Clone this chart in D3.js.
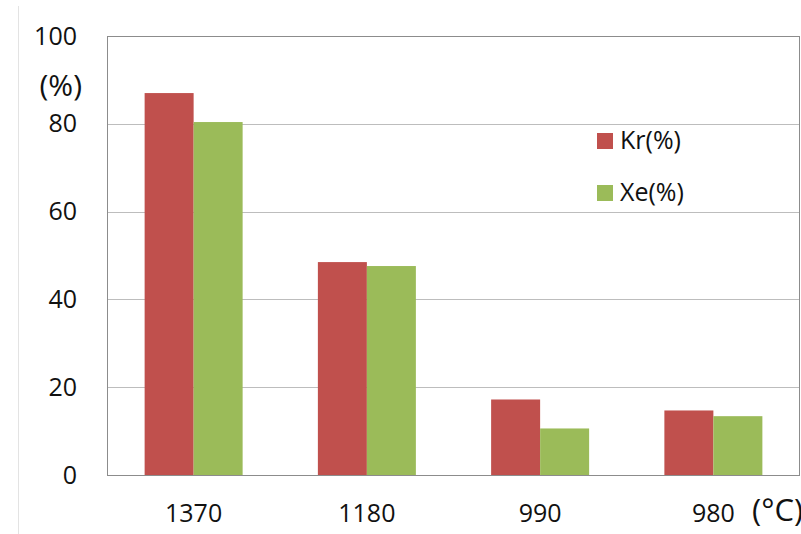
<!DOCTYPE html>
<html>
<head>
<meta charset="utf-8">
<script src="https://cdn.jsdelivr.net/npm/d3@7"></script>
<style>
  body { margin: 0; background: #fff; }
  text { font-family: "Open Sans", "Liberation Sans", Arial, sans-serif; fill: #111; }
</style>
</head>
<body>
<div id="chart"></div>
<script>
const temps = ['1370', '1180', '990', '980'];
const kr = [87.0, 48.5, 17.2, 14.7];
const xe = [80.4, 47.6, 10.6, 13.4];
const series = ['Kr(%)', 'Xe(%)'];
const colors = ['#c0504d', '#9bbb59'];
const yTicks = [0, 20, 40, 60, 80, 100];

const width = 801;
const height = 534;
const margin = { top: 36, right: 1, bottom: 59, left: 107 };
const iw = width - margin.left - margin.right;
const ih = height - margin.top - margin.bottom;

const svg = d3.select('#chart').append('svg')
  .attr('width', width)
  .attr('height', height);

// faint outer frame line on the left
svg.append('line')
  .attr('x1', 18.5).attr('x2', 18.5)
  .attr('y1', 6).attr('y2', height)
  .attr('stroke', '#e3e3e3');

const g = svg.append('g')
  .attr('transform', `translate(${margin.left},${margin.top})`);

const x = d3.scaleBand().domain(temps).range([0, iw]);
const xs = d3.scaleBand().domain(series).range([0, 98]);
const y = d3.scaleLinear().domain([0, 100]).range([ih, 0]);

// gridlines
g.selectAll('line.grid')
  .data(yTicks.filter((d) => d > 0 && d < 100))
  .enter()
  .append('line')
  .attr('class', 'grid')
  .attr('x1', 0).attr('x2', iw)
  .attr('y1', (d) => Math.round(y(d)) + 0.5)
  .attr('y2', (d) => Math.round(y(d)) + 0.5)
  .attr('stroke', '#bdbdbd');

// bars
const rows = temps.map((t, i) => ({ t, vals: [kr[i], xe[i]] }));
const grp = g.selectAll('g.cat')
  .data(rows)
  .enter()
  .append('g')
  .attr('class', 'cat')
  .attr('transform', (d) => `translate(${x(d.t) + x.bandwidth() / 2 - 49},0)`);

grp.selectAll('rect')
  .data((d) => d.vals.map((v, k) => ({ s: series[k], v, c: colors[k] })))
  .enter()
  .append('rect')
  .attr('x', (d) => xs(d.s))
  .attr('width', xs.bandwidth())
  .attr('y', (d) => y(d.v))
  .attr('height', (d) => ih - y(d.v))
  .attr('fill', (d) => d.c);

// plot frame
g.append('rect')
  .attr('x', 0.5).attr('y', 0.5)
  .attr('width', iw - 1).attr('height', ih)
  .attr('fill', 'none')
  .attr('stroke', '#8c8c8c');

// y axis labels
const yAxis = d3.axisLeft(y).tickValues(yTicks).tickSize(0).tickPadding(30);
const ya = g.append('g').call(yAxis);
ya.select('.domain').remove();
ya.selectAll('text')
  .style('font-size', '25px')
  .attr('fill', '#111');

g.append('text')
  .attr('x', -25)
  .attr('y', 88 - margin.top)
  .attr('text-anchor', 'end')
  .attr('dominant-baseline', 'middle')
  .style('font-size', '30px')
  .text('(%)');

// x axis labels
const xAxis = d3.axisBottom(x).tickSize(0).tickPadding(29);
const xa = g.append('g').attr('transform', `translate(0,${ih})`).call(xAxis);
xa.select('.domain').remove();
xa.selectAll('text')
  .style('font-size', '25px')
  .attr('fill', '#111');

svg.append('text')
  .attr('x', 752)
  .attr('y', 521)
  .style('font-size', '31px')
  .text('(°C)');

// legend
const legend = svg.append('g').attr('transform', 'translate(597,133)');
series.forEach((s, k) => {
  const row = legend.append('g').attr('transform', `translate(0,${k * 52})`);
  row.append('rect')
    .attr('width', 16).attr('height', 16)
    .attr('fill', colors[k]);
  row.append('text')
    .attr('x', 23)
    .attr('y', 9)
    .attr('dominant-baseline', 'middle')
    .style('font-size', '25px')
    .text(s);
});
</script>
</body>
</html>
